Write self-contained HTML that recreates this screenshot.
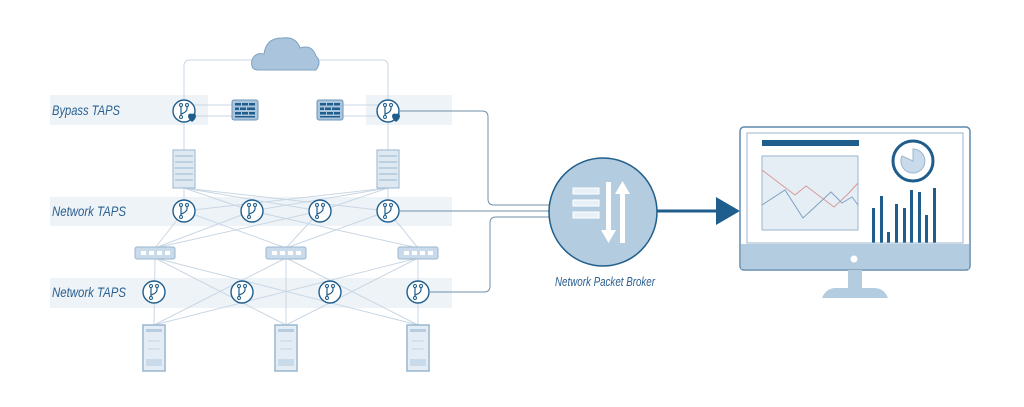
<!DOCTYPE html>
<html><head><meta charset="utf-8"><style>
html,body{margin:0;padding:0;background:#fff;}
svg{display:block;}
text{font-family:"Liberation Sans",sans-serif;font-style:italic;fill:#2a5f8f;}
</style></head><body>
<svg width="1024" height="407" viewBox="0 0 1024 407" xmlns="http://www.w3.org/2000/svg">
<defs>
<g id="tap">
  <circle r="11" fill="#fff" stroke="#1f5e8c" stroke-width="1.4"/>
  <path d="M-3,-6 V6 M3,-6 V-2 Q3,1 -3,3" fill="none" stroke="#1f5e8c" stroke-width="1.2"/>
  <circle cx="-3" cy="-6" r="1.5" fill="#fff" stroke="#1f5e8c" stroke-width="1"/>
  <circle cx="3" cy="-6" r="1.5" fill="#fff" stroke="#1f5e8c" stroke-width="1"/>
  <circle cx="-3" cy="6" r="1.5" fill="#fff" stroke="#1f5e8c" stroke-width="1"/>
</g>
<g id="fw">
  <rect x="0" y="0" width="26" height="20" rx="2" fill="#a9c4dc" stroke="#6f96b8"/>
  <g fill="#1f5e8c">
  <rect x="3" y="3" width="6" height="2.5"/><rect x="10" y="3" width="6" height="2.5"/><rect x="17" y="3" width="6" height="2.5"/>
  <rect x="3" y="7.5" width="4" height="2.5"/><rect x="8" y="7.5" width="6" height="2.5"/><rect x="15" y="7.5" width="8" height="2.5"/>
  <rect x="3" y="12" width="6" height="2.5"/><rect x="10" y="12" width="6" height="2.5"/><rect x="17" y="12" width="6" height="2.5"/>
  <rect x="3" y="16" width="20" height="1.5"/></g>
</g>
<g id="rack">
  <rect x="-11" y="0" width="22" height="38" fill="#dfe9f2" stroke="#9ab6cf"/>
  <g stroke="#9ab6cf"><line x1="-9" y1="6" x2="9" y2="6"/><line x1="-9" y1="12" x2="9" y2="12"/><line x1="-9" y1="18" x2="9" y2="18"/><line x1="-9" y1="24" x2="9" y2="24"/><line x1="-9" y1="30" x2="9" y2="30"/></g>
</g>
<g id="sw">
  <rect x="-20" y="-6" width="40" height="12" rx="2" fill="#c9dbea" stroke="#9ab6cf"/>
  <g fill="#fff"><rect x="-14" y="-2" width="5" height="4"/><rect x="-6" y="-2" width="5" height="4"/><rect x="2" y="-2" width="5" height="4"/><rect x="10" y="-2" width="5" height="4"/></g>
</g>
<g id="srv">
  <rect x="-11" y="0" width="22" height="46" fill="#e4edf5" stroke="#9ab6cf" stroke-width="1.5"/>
  <rect x="-8" y="4" width="16" height="3" fill="#b8cde0"/>
  <line x1="-6" y1="16" x2="6" y2="16" stroke="#c5d5e3"/>
  <line x1="-6" y1="24" x2="6" y2="24" stroke="#c5d5e3"/>
  <rect x="-8" y="34" width="16" height="7" fill="#c9dbea"/>
</g>
</defs>

<!-- bands -->
<rect x="50" y="95" width="158" height="30" fill="#eef3f8"/>
<rect x="366" y="95" width="86" height="30" fill="#eef3f8"/>
<rect x="50" y="197" width="402" height="29" fill="#eef3f8"/>
<rect x="50" y="278" width="402" height="30" fill="#eef3f8"/>
<text x="52" y="115" font-size="14" textLength="68" lengthAdjust="spacingAndGlyphs">Bypass TAPS</text>
<text x="52" y="216" font-size="14" textLength="74" lengthAdjust="spacingAndGlyphs">Network TAPS</text>
<text x="52" y="297" font-size="14" textLength="74" lengthAdjust="spacingAndGlyphs">Network TAPS</text>

<!-- light lines -->
<g stroke="#c9d7e4" stroke-width="1" fill="none">
<path d="M184,111 V66 Q184,60 190,60 H382 Q388,60 388,66 V111"/>
<line x1="184" y1="111" x2="184" y2="150"/><line x1="388" y1="111" x2="388" y2="150"/>
<line x1="190" y1="105" x2="232" y2="105"/><line x1="190" y1="116" x2="232" y2="116"/>
<line x1="343" y1="105" x2="382" y2="105"/><line x1="343" y1="116" x2="382" y2="116"/>
<line x1="184" y1="188" x2="184" y2="211"/><line x1="184" y1="188" x2="320" y2="211"/><line x1="184" y1="188" x2="388" y2="211"/><line x1="184" y1="188" x2="252" y2="211"/>
<line x1="388" y1="188" x2="388" y2="211"/><line x1="388" y1="188" x2="252" y2="211"/><line x1="388" y1="188" x2="184" y2="211"/><line x1="388" y1="188" x2="320" y2="211"/>
<line x1="184" y1="211" x2="155" y2="248"/><line x1="184" y1="211" x2="286" y2="248"/>
<line x1="252" y1="211" x2="155" y2="248"/><line x1="252" y1="211" x2="418" y2="248"/>
<line x1="320" y1="211" x2="155" y2="248"/><line x1="320" y1="211" x2="286" y2="248"/>
<line x1="388" y1="211" x2="418" y2="248"/><line x1="388" y1="211" x2="286" y2="248"/>
<line x1="155" y1="258" x2="154" y2="325"/><line x1="155" y1="258" x2="286" y2="325"/><line x1="155" y1="258" x2="418" y2="325"/>
<line x1="286" y1="258" x2="286" y2="325"/><line x1="286" y1="258" x2="154" y2="325"/><line x1="286" y1="258" x2="418" y2="325"/>
<line x1="418" y1="258" x2="418" y2="325"/><line x1="418" y1="258" x2="154" y2="325"/><line x1="418" y1="258" x2="286" y2="325"/>
</g>

<!-- cloud -->
<path d="M258,70 Q250,70 252,60 Q255,52 264,54 Q266,38 282,38 Q296,36 300,48 Q312,44 316,56 Q322,62 316,70 Z" fill="#a9c4dc" stroke="#7fa3c3"/>

<use href="#tap" x="184" y="111"/><use href="#tap" x="388" y="111"/>
<path d="M188,116 a2.5,2.5 0 0 1 4,-2 a2.5,2.5 0 0 1 4,2 q0,3 -4,6 q-4,-3 -4,-6z" fill="#1f5e8c"/>
<path d="M392,116 a2.5,2.5 0 0 1 4,-2 a2.5,2.5 0 0 1 4,2 q0,3 -4,6 q-4,-3 -4,-6z" fill="#1f5e8c"/>
<use href="#fw" x="232" y="100"/><use href="#fw" x="317" y="100"/>
<use href="#rack" x="184" y="150"/><use href="#rack" x="388" y="150"/>
<use href="#tap" x="184" y="211"/><use href="#tap" x="252" y="211"/><use href="#tap" x="320" y="211"/><use href="#tap" x="388" y="211"/>
<use href="#sw" x="155" y="253"/><use href="#sw" x="286" y="253"/><use href="#sw" x="418" y="253"/>
<use href="#tap" x="154" y="292"/><use href="#tap" x="242" y="292"/><use href="#tap" x="330" y="292"/><use href="#tap" x="418" y="292"/>
<use href="#srv" x="154" y="325"/><use href="#srv" x="286" y="325"/><use href="#srv" x="418" y="325"/>

<!-- broker connections -->
<g stroke="#6f8fa8" stroke-width="1" fill="none">
<path d="M399,111 H482 Q488,111 488,117 V199 Q488,205 494,205 H552"/>
<path d="M399,211 H552"/>
<path d="M429,292 H484 Q490,292 490,286 V223 Q490,217 496,217 H552"/>
</g>

<!-- broker -->
<circle cx="603" cy="212" r="54" fill="#b4cce0" stroke="#1f5e8c" stroke-width="1.5"/>
<g fill="#e8f0f7" stroke="#fff" stroke-width="1"><rect x="573" y="188" width="26" height="6"/><rect x="573" y="200" width="26" height="6"/><rect x="573" y="212" width="26" height="6"/></g>
<path d="M606,182 V230 H601 L608.5,243 L616,230 H611 V182Z" fill="#fff"/>
<path d="M620,243 V194 H615 L622.5,181 L630,194 H625 V243Z" fill="#fff"/>
<text x="605" y="286" font-size="13" text-anchor="middle" textLength="100" lengthAdjust="spacingAndGlyphs">Network Packet Broker</text>

<line x1="657" y1="211" x2="718" y2="211" stroke="#1f5e8c" stroke-width="3"/>
<path d="M716,197 L740,211 L716,225Z" fill="#1f5e8c"/>

<!-- monitor -->
<rect x="740" y="127" width="230" height="143" rx="4" fill="#fff" stroke="#5f88ad" stroke-width="1.5"/>
<rect x="747" y="133" width="216" height="110" fill="#fff" stroke="#9ab6cf"/>
<rect x="741" y="244" width="228" height="25" fill="#b4cce0"/>
<circle cx="854" cy="259" r="3.5" fill="#fff"/>
<rect x="848" y="270" width="14" height="19" fill="#b4cce0"/>
<path d="M822,298 Q826,288 836,288 H874 Q884,288 888,298Z" fill="#b4cce0"/>
<rect x="762" y="140" width="97" height="6" fill="#1f5e8c"/>
<rect x="762" y="156" width="96" height="74" fill="#e6eef5" stroke="#9ab6cf"/>
<polyline points="762,170 795,195 806,186 834,207 847,195 858,183" fill="none" stroke="#d79a9a" stroke-width="1"/>
<polyline points="762,205 785,190 803,218 831,192 842,203 852,197 858,205" fill="none" stroke="#7fa3c3" stroke-width="1"/>
<circle cx="913" cy="161" r="20" fill="#fff" stroke="#1f5e8c" stroke-width="3"/>
<path d="M913,161 L913,149 A12,12 0 1 1 902,156Z" fill="#c9dbea" stroke="#9ab6cf"/>
<g fill="#1f5e8c">
<rect x="872" y="208" width="3" height="35"/><rect x="880" y="196" width="3" height="47"/><rect x="887" y="232" width="3" height="11"/>
<rect x="895" y="204" width="3" height="39"/><rect x="903" y="208" width="3" height="35"/><rect x="910" y="190" width="3" height="53"/>
<rect x="918" y="192" width="3" height="51"/><rect x="925" y="215" width="3" height="28"/><rect x="933" y="188" width="3" height="55"/>
</g>
<line x1="864" y1="243" x2="962" y2="243" stroke="#9ab6cf"/>
</svg>
</body></html>
